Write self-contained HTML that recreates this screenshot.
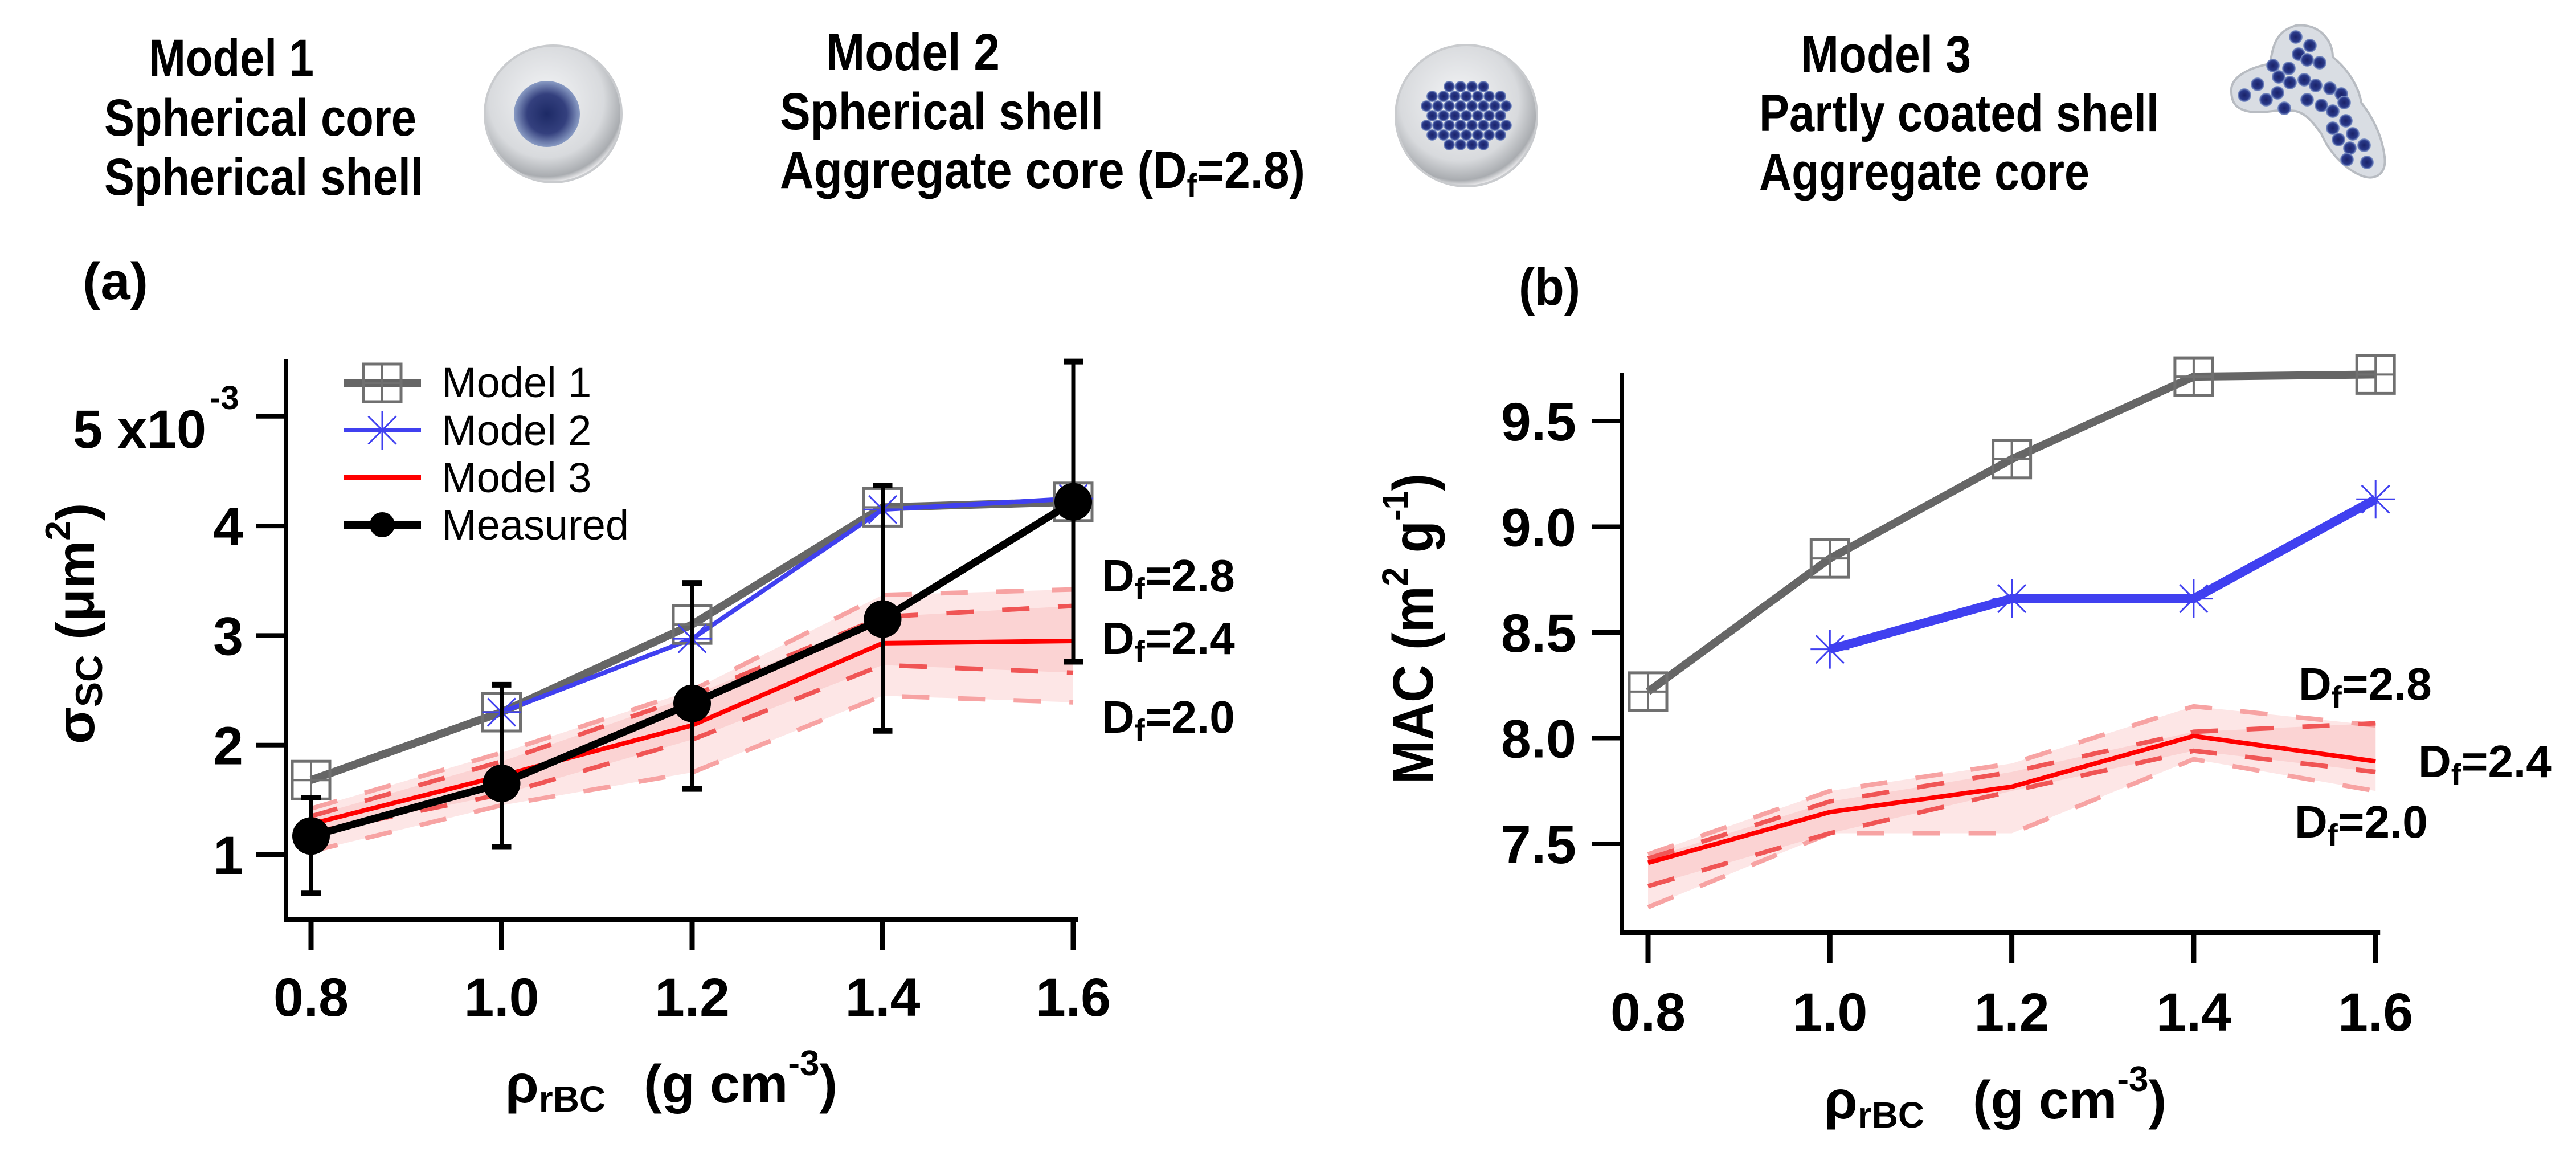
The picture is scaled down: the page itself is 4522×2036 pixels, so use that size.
<!DOCTYPE html>
<html><head><meta charset="utf-8"><title>Scattering and MAC vs rBC density</title>
<style>
html,body{margin:0;padding:0;background:#fff;}
svg{display:block;font-family:"Liberation Sans",Arial,sans-serif;}
.tk{font-size:95px;font-weight:bold;}
.hd{font-size:92px;font-weight:bold;}
</style></head>
<body>
<svg id="fig" width="4522" height="2036" viewBox="0 0 4522 2036" xmlns="http://www.w3.org/2000/svg">
<defs>
<radialGradient id="shellG" cx="0.45" cy="0.4" r="0.6">
<stop offset="0" stop-color="#f4f5f7"/><stop offset="0.7" stop-color="#d8dadd"/><stop offset="0.93" stop-color="#a9acb0"/><stop offset="1" stop-color="#e8e8ea"/>
</radialGradient>
<radialGradient id="coreG" cx="0.5" cy="0.5" r="0.5">
<stop offset="0" stop-color="#1d2a66"/><stop offset="0.6" stop-color="#34407e"/><stop offset="1" stop-color="#8a9cc4"/>
</radialGradient>
<radialGradient id="partG" cx="0.5" cy="0.5" r="0.5">
<stop offset="0" stop-color="#1a2268"/><stop offset="0.7" stop-color="#2a3a8a"/><stop offset="1" stop-color="#8fa3d0"/>
</radialGradient>
</defs>

<!-- Header -->
<g id="header">
<text class="hd" x="261" y="133" textLength="290" lengthAdjust="spacingAndGlyphs">Model 1</text>
<text class="hd" x="183" y="238" textLength="548" lengthAdjust="spacingAndGlyphs">Spherical core</text>
<text class="hd" x="183" y="342" textLength="560" lengthAdjust="spacingAndGlyphs">Spherical shell</text>
<text class="hd" x="1450" y="123" textLength="305" lengthAdjust="spacingAndGlyphs">Model 2</text>
<text class="hd" x="1369" y="227" textLength="568" lengthAdjust="spacingAndGlyphs">Spherical shell</text>
<text class="hd" x="1369" y="330" textLength="922" lengthAdjust="spacingAndGlyphs">Aggregate core (D<tspan font-size="58" dy="16">f</tspan><tspan dy="-16">=2.8)</tspan></text>
<text class="hd" x="3161" y="127" textLength="299" lengthAdjust="spacingAndGlyphs">Model 3</text>
<text class="hd" x="3088" y="230" textLength="702" lengthAdjust="spacingAndGlyphs">Partly coated shell</text>
<text class="hd" x="3088" y="333" textLength="580" lengthAdjust="spacingAndGlyphs">Aggregate core</text>

<g>
<circle cx="971" cy="200" r="120" fill="url(#shellG)" stroke="#c9cbce" stroke-width="4"/>
<circle cx="960" cy="200" r="58" fill="url(#coreG)"/>
</g>
<g id="m2img">
<circle cx="2574" cy="203" r="124" fill="url(#shellG)" stroke="#c9cbce" stroke-width="4"/>
</g>
<g id="m3img">
<path d="M3917,160 C3915,135 3950,118 3985,112 C3990,80 3995,55 4030,45 C4070,40 4095,70 4095,100 C4120,120 4140,150 4145,180 C4165,205 4182,240 4186,275 C4190,305 4170,316 4150,310 C4120,300 4090,270 4075,235 C4060,215 4050,200 4030,195 C4000,190 3975,200 3950,196 C3925,192 3917,180 3917,160 Z" fill="#d9dde3" stroke="#b8bcc2" stroke-width="4"/>
</g>
</g>

<!-- Panel labels & axis titles -->
<text x="145" y="525" font-size="92" font-weight="bold" textLength="115" lengthAdjust="spacingAndGlyphs">(a)</text>
<text x="2666" y="535" font-size="92" font-weight="bold" textLength="108" lengthAdjust="spacingAndGlyphs">(b)</text>

<text transform="translate(165,1306) rotate(-90)" font-size="95" font-weight="bold">σ<tspan font-size="66" dy="14">SC</tspan><tspan dy="-14"> (μm</tspan><tspan font-size="62" dy="-42">2</tspan><tspan dy="42">)</tspan></text>
<text transform="translate(2515,1376) rotate(-90)" font-size="100" font-weight="bold" textLength="545" lengthAdjust="spacingAndGlyphs">MAC (m<tspan font-size="64" dy="-44">2</tspan><tspan dy="44"> g</tspan><tspan font-size="64" dy="-44">-1</tspan><tspan dy="44">)</tspan></text>

<text x="887" y="1935" font-size="95" font-weight="bold">ρ<tspan font-size="64" dy="16">rBC</tspan><tspan dy="-16" x="1130">(g cm</tspan><tspan font-size="62" dy="-48">-3</tspan><tspan dy="48">)</tspan></text>
<text x="3202" y="1963" font-size="95" font-weight="bold">ρ<tspan font-size="64" dy="16">rBC</tspan><tspan dy="-16" x="3463">(g cm</tspan><tspan font-size="62" dy="-48">-3</tspan><tspan dy="48">)</tspan></text>

<!-- Df annotations -->
<g font-size="80" font-weight="bold">
<text x="1934" y="1038">D<tspan font-size="54" dy="14">f</tspan><tspan dy="-14">=2.8</tspan></text>
<text x="1934" y="1148">D<tspan font-size="54" dy="14">f</tspan><tspan dy="-14">=2.4</tspan></text>
<text x="1934" y="1286">D<tspan font-size="54" dy="14">f</tspan><tspan dy="-14">=2.0</tspan></text>
<text x="4035" y="1228">D<tspan font-size="54" dy="14">f</tspan><tspan dy="-14">=2.8</tspan></text>
<text x="4245" y="1364">D<tspan font-size="54" dy="14">f</tspan><tspan dy="-14">=2.4</tspan></text>
<text x="4028" y="1470">D<tspan font-size="54" dy="14">f</tspan><tspan dy="-14">=2.0</tspan></text>
</g>

<!-- y-exponent label -->
<text x="128" y="786" font-size="95" font-weight="bold" textLength="234" lengthAdjust="spacingAndGlyphs">5 x10</text>
<text x="368" y="718" font-size="58" font-weight="bold">-3</text>

<!-- Legend -->
<g id="legend" font-size="74">
<text x="775" y="697">Model 1</text>
<text x="775" y="781">Model 2</text>
<text x="775" y="864">Model 3</text>
<text x="775" y="947">Measured</text>
</g>

<g id="plotA"></g>
<g id="plotB"></g>
</svg>

<script>
// ---------- data ----------
const xCats = [0.8, 1.0, 1.2, 1.4, 1.6];
const xTickLabels = ["0.8", "1.0", "1.2", "1.4", "1.6"];
// Panel a: scattering cross-section (x1e-3 um^2)
const aTicks = [1, 2, 3, 4];
const aTickLabels = ["1", "2", "3", "4"];
const aModel1 = [1.68, 2.30, 3.10, 4.17, 4.22];
const aModel2 = [null, 2.30, 2.97, 4.15, 4.25];
const aModel3 = [1.28, 1.72, 2.18, 2.93, 2.95];
const aM3Df28 = [1.35, 1.85, 2.45, 3.17, 3.27];
const aM3Df20 = [1.20, 1.55, 2.05, 2.73, 2.66];
const aM3HiOuter = [1.42, 1.93, 2.50, 3.37, 3.42];
const aM3LoOuter = [1.03, 1.45, 1.75, 2.45, 2.39];
const aMeasured = [1.17, 1.65, 2.38, 3.15, 4.22];
const aErrLow = [0.65, 1.07, 1.60, 2.13, 2.76];
const aErrHigh = [1.52, 2.55, 3.48, 4.37, 5.50];
// Panel b: MAC (m2/g)
const bTicks = [7.5, 8.0, 8.5, 9.0, 9.5];
const bTickLabels = ["7.5", "8.0", "8.5", "9.0", "9.5"];
const bModel1 = [8.22, 8.85, 9.32, 9.71, 9.72];
const bModel2 = [null, 8.42, 8.66, 8.66, 9.13];
const bModel3 = [7.41, 7.65, 7.77, 8.01, 7.89];
const bM3Df28 = [7.43, 7.70, 7.84, 8.03, 8.07];
const bM3Df20 = [7.30, 7.55, 7.75, 7.94, 7.84];
const bM3HiOuter = [7.45, 7.75, 7.88, 8.15, 8.06];
const bM3LoOuter = [7.20, 7.55, 7.55, 7.90, 7.75];

// ---------- helpers ----------
const NS = "http://www.w3.org/2000/svg";
function mk(parent, tag, attrs) {
  const e = document.createElementNS(NS, tag);
  for (const k in attrs) e.setAttribute(k, attrs[k]);
  parent.appendChild(e);
  return e;
}
const xA = v => 546 + (v - 0.8) / 0.2 * 334.5;
const yA = v => 1500 - (v - 1) * 192.3;
const xB = v => 2893 + (v - 0.8) / 0.2 * 319.3;
const yB = v => 1481 - (v - 7.5) * 371;

function pts(xs, ys, fx, fy) {
  const out = [];
  xs.forEach((x, i) => { if (ys[i] !== null) out.push(fx(x).toFixed(1) + "," + fy(ys[i]).toFixed(1)); });
  return out.join(" ");
}
function squareMarker(g, cx, cy) {
  const s = 33;
  const m = mk(g, "g", {});
  
  
  mk(m, "rect", {x: cx - s, y: cy - s, width: 2 * s, height: 2 * s, fill: "none", stroke: "#707070", "stroke-width": 5});
  mk(m, "line", {x1: cx, y1: cy - s, x2: cx, y2: cy + s, stroke: "#707070", "stroke-width": 4});
  mk(m, "line", {x1: cx - s, y1: cy, x2: cx + s, y2: cy, stroke: "#707070", "stroke-width": 4});
}
function starMarker(g, cx, cy, sw) {
  const r = 34;
  const m = mk(g, "g", {stroke: "#4040f0", "stroke-width": sw});
  
  
  mk(m, "line", {x1: cx, y1: cy - r, x2: cx, y2: cy + r});
  mk(m, "line", {x1: cx - r, y1: cy, x2: cx + r, y2: cy});
  mk(m, "line", {x1: cx - r * 0.72, y1: cy - r * 0.72, x2: cx + r * 0.72, y2: cy + r * 0.72});
  mk(m, "line", {x1: cx - r * 0.72, y1: cy + r * 0.72, x2: cx + r * 0.72, y2: cy - r * 0.72});
}
function band(g, hi, lo, fx, fy, fill, name) {
  const up = xCats.map((x, i) => fx(x) + "," + fy(hi[i]));
  const dn = xCats.map((x, i) => fx(x) + "," + fy(lo[i])).reverse();
  const p = mk(g, "polygon", {points: up.concat(dn).join(" "), fill: fill});
  
  
}
function line(g, ys, fx, fy, attrs, name) {
  const a = Object.assign({points: pts(xCats, ys, fx, fy), fill: "none", "stroke-linejoin": "round"}, attrs);
  const p = mk(g, "polyline", a);
  
  
  return p;
}
function axes(g, fx, fy, yAxisX, xAxisY, topY, ticks, tickLabels, labelRight, xLabelBase, nameSuffix) {
  const ax = mk(g, "g", {stroke: "#000", "stroke-width": 8, fill: "none"});
  
  
  mk(ax, "path", {d: `M${yAxisX},${topY} V${xAxisY} H${fx(1.6) + 4}`, "stroke-linecap": "square"});
  xCats.forEach((x, i) => {
    const t = mk(ax, "line", {x1: fx(x), y1: xAxisY, x2: fx(x), y2: xAxisY + 54, "stroke-width": 9});
    
    
    const l = mk(g, "text", {x: fx(x), y: xLabelBase, "text-anchor": "middle", class: "tk"});
    l.textContent = xTickLabels[i];
    
    
  });
  ticks.forEach((v, i) => {
    const t = mk(ax, "line", {x1: yAxisX - 52, y1: fy(v), x2: yAxisX, y2: fy(v), "stroke-width": 8});
    
    
    const l = mk(g, "text", {x: labelRight, y: fy(v) + 34, "text-anchor": "end", class: "tk"});
    l.textContent = tickLabels[i];
    
    
  });
  // top tick (5e-3) for panel a
}

// ---------- header particles ----------
(function () {
  const g2 = document.getElementById("m2img");
  for (let r = -3; r <= 3; r++) {
    for (let c = -4; c <= 4; c++) {
      const x = 2574 + c * 20 + (r % 2 ? 10 : 0), y = 203 + r * 17;
      const d = Math.hypot((x - 2574) / 78, (y - 203) / 60);
      if (d <= 1) mk(g2, "circle", {cx: x, cy: y, r: 10, fill: "url(#partG)"});
    }
  }
  const g3 = document.getElementById("m3img");
  const cl = [[3940,167],[3963,148],[3978,175],[3998,163],[4000,135],[4018,120],[4035,95],[4030,65],[4055,80],[4050,105],[4072,110],[4020,145],[4045,140],[4065,150],[4090,155],[4110,165],[4050,175],[4075,185],[4095,195],[4115,180],[4095,225],[4118,212],[4130,235],[4105,245],[4125,260],[4150,255],[4155,285],[4120,280],[3990,115],[4010,190]];
  cl.forEach(p => mk(g3, "circle", {cx: p[0], cy: p[1], r: 12, fill: "url(#partG)"}));
})();

// ---------- Panel a ----------
(function () {
  const g = document.getElementById("plotA");
  band(g, aM3HiOuter, aM3LoOuter, xA, yA, "#fde6e6", "model-3-outer-band");
  band(g, aM3Df28, aM3Df20, xA, yA, "#fbd3d3", "model-3-inner-band");
  line(g, aM3HiOuter, xA, yA, {stroke: "#f7a3a3", "stroke-width": 8, "stroke-dasharray": "48 50"}, "model-3-upper-bound");
  line(g, aM3LoOuter, xA, yA, {stroke: "#f7a3a3", "stroke-width": 8, "stroke-dasharray": "48 50"}, "model-3-lower-bound");
  line(g, aM3Df28, xA, yA, {stroke: "#f05555", "stroke-width": 8, "stroke-dasharray": "48 50"}, "model-3-df-2.8");
  line(g, aM3Df20, xA, yA, {stroke: "#f05555", "stroke-width": 8, "stroke-dasharray": "48 50"}, "model-3-df-2.0");
  line(g, aModel3, xA, yA, {stroke: "#ff0000", "stroke-width": 8}, "model-3-line");
  line(g, aModel1, xA, yA, {stroke: "#666666", "stroke-width": 14}, "model-1-line");
  line(g, aModel2, xA, yA, {stroke: "#4040f0", "stroke-width": 8}, "model-2-line");
  xCats.forEach((x, i) => squareMarker(g, xA(x), yA(aModel1[i])));
  xCats.forEach((x, i) => { if (aModel2[i] !== null) starMarker(g, xA(x), yA(aModel2[i]), 3); });
  // error bars
  xCats.forEach((x, i) => {
    const eb = mk(g, "g", {stroke: "#000"});
    
    
    mk(eb, "line", {x1: xA(x), y1: yA(aErrLow[i]), x2: xA(x), y2: yA(aErrHigh[i]), "stroke-width": 7});
    mk(eb, "line", {x1: xA(x) - 17, y1: yA(aErrLow[i]), x2: xA(x) + 17, y2: yA(aErrLow[i]), "stroke-width": 10});
    mk(eb, "line", {x1: xA(x) - 17, y1: yA(aErrHigh[i]), x2: xA(x) + 17, y2: yA(aErrHigh[i]), "stroke-width": 10});
  });
  line(g, aMeasured, xA, yA, {stroke: "#000", "stroke-width": 13}, "measured-line");
  xCats.forEach((x, i) => {
    const c = mk(g, "circle", {cx: xA(x), cy: yA(aMeasured[i]), r: 33, fill: "#000"});
    
    
  });
  axes(g, xA, yA, 502, 1614, 634, aTicks, aTickLabels, 427, 1783, "a");
  const t5 = mk(g, "line", {x1: 450, y1: yA(5), x2: 502, y2: yA(5), stroke: "#000", "stroke-width": 8});
  
  
  // legend symbols
  const lg = mk(g, "g", {});
  
  
  mk(lg, "line", {x1: 603, y1: 672, x2: 739, y2: 672, stroke: "#666", "stroke-width": 14});
  squareMarker(lg, 671, 672);
  mk(lg, "line", {x1: 603, y1: 755, x2: 739, y2: 755, stroke: "#4040f0", "stroke-width": 8});
  starMarker(lg, 671, 755, 3);
  mk(lg, "line", {x1: 603, y1: 838, x2: 739, y2: 838, stroke: "#ff0000", "stroke-width": 8});
  mk(lg, "line", {x1: 603, y1: 921, x2: 739, y2: 921, stroke: "#000", "stroke-width": 14});
  mk(lg, "circle", {cx: 671, cy: 921, r: 22, fill: "#000"});
})();

// ---------- Panel b ----------
(function () {
  const g = document.getElementById("plotB");
  band(g, bM3HiOuter, bM3LoOuter, xB, yB, "#fde6e6", "model-3-outer-band");
  band(g, bM3Df28, bM3Df20, xB, yB, "#fbd3d3", "model-3-inner-band");
  line(g, bM3HiOuter, xB, yB, {stroke: "#f7a3a3", "stroke-width": 8, "stroke-dasharray": "48 50"}, "model-3-upper-bound");
  line(g, bM3LoOuter, xB, yB, {stroke: "#f7a3a3", "stroke-width": 8, "stroke-dasharray": "48 50"}, "model-3-lower-bound");
  line(g, bM3Df28, xB, yB, {stroke: "#f05555", "stroke-width": 8, "stroke-dasharray": "48 50"}, "model-3-df-2.8");
  line(g, bM3Df20, xB, yB, {stroke: "#f05555", "stroke-width": 8, "stroke-dasharray": "48 50"}, "model-3-df-2.0");
  line(g, bModel3, xB, yB, {stroke: "#ff0000", "stroke-width": 8}, "model-3-line");
  line(g, bModel1, xB, yB, {stroke: "#666666", "stroke-width": 14}, "model-1-line");
  line(g, bModel2, xB, yB, {stroke: "#4040f0", "stroke-width": 16}, "model-2-line");
  xCats.forEach((x, i) => squareMarker(g, xB(x), yB(bModel1[i])));
  xCats.forEach((x, i) => { if (bModel2[i] !== null) starMarker(g, xB(x), yB(bModel2[i]), 3); });
  axes(g, xB, yB, 2847, 1637, 658, bTicks, bTickLabels, 2767, 1809, "b");
})();
</script>
</body></html>
